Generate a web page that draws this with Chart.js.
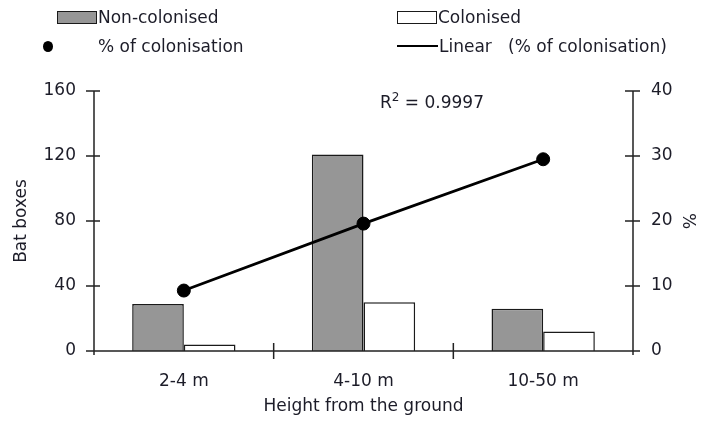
<!DOCTYPE html>
<html>
<head>
<meta charset="utf-8">
<script src="https://cdn.jsdelivr.net/npm/chart.js@4/dist/chart.umd.min.js"></script>
<style>
  html, body { margin: 0; padding: 0; background: #fff; }
  #wrap { position: relative; width: 702px; height: 421px; }
  #legend { position: absolute; left: 0; top: 0; width: 702px; height: 60px;
            font-family: "DejaVu Sans", sans-serif; font-size: 17px; color: #1c1c28; }
  .item { position: absolute; display: flex; align-items: center; white-space: pre; }
  .box { width: 40px; height: 13px; border: 1.5px solid #1a1a1a; box-sizing: border-box; margin-right: 1px; }
  .dot { width: 10px; height: 11px; border-radius: 50%; background: #000; margin: 0 45px 0 0; }
  .line { width: 41px; height: 0; border-top: 2.5px solid #000; margin-right: 1px; }
</style>
</head>
<body>
<div id="wrap">
  <canvas id="batChart" width="702" height="421"></canvas>
  <div id="legend"></div>
</div>
<script>
// Heights and bat box counts
const categories = ['2-4 m', '4-10 m', '10-50 m'];
const nonColonised = [29, 121, 26];
const colonised = [4, 30, 12];
const pctColonisation = [9.3, 19.6, 29.5];
const leftTicks = [0, 40, 80, 120, 160];
const rightTicks = [0, 10, 20, 30, 40];
const rSquared = '0.9997';

const textColor = '#1c1c28';
const axisColor = '#222';
const fontFamily = '"DejaVu Sans", sans-serif';
const fontSize = 17;

// Legend laid out in two columns above the plot
const legendItems = [
  { html: '<span class="box" style="background:#969696"></span>Non-colonised', x: 57, y: 18 },
  { html: '<span class="box" style="background:#fff"></span>Colonised', x: 397, y: 18 },
  { html: '<span class="dot"></span>% of colonisation', x: 43, y: 47 },
  { html: '<span class="line"></span>Linear   (% of colonisation)', x: 397, y: 47 }
];
const legend = document.getElementById('legend');
legendItems.forEach((it) => {
  const d = document.createElement('div');
  d.className = 'item';
  d.style.left = it.x + 'px';
  d.style.top = (it.y - 11) + 'px';
  d.innerHTML = it.html;
  legend.appendChild(d);
});

// Draws ticks that cross the axis lines, like the spreadsheet style
const crossTicks = {
  id: 'crossTicks',
  afterDraw(chart) {
    const ctx = chart.ctx;
    const a = chart.chartArea;
    ctx.save();
    ctx.strokeStyle = axisColor;
    ctx.lineWidth = 1.5;
    ctx.beginPath();
    // axis lines
    ctx.moveTo(a.left, a.top); ctx.lineTo(a.left, a.bottom + 4);
    ctx.moveTo(a.right, a.top); ctx.lineTo(a.right, a.bottom + 4);
    ctx.moveTo(a.left, a.bottom); ctx.lineTo(a.right, a.bottom);
    const y = chart.scales.y, y1 = chart.scales.y1, x = chart.scales.x;
    leftTicks.forEach((v) => {
      const py = y.getPixelForValue(v);
      ctx.moveTo(a.left - 8, py); ctx.lineTo(a.left + 6, py);
    });
    rightTicks.forEach((v) => {
      const py = y1.getPixelForValue(v);
      ctx.moveTo(a.right - 8, py); ctx.lineTo(a.right + 7, py);
    });
    // category boundaries
    for (let i = 1; i < categories.length; i++) {
      const px = (x.getPixelForValue(i - 1) + x.getPixelForValue(i)) / 2;
      ctx.moveTo(px, a.bottom - 8); ctx.lineTo(px, a.bottom + 8);
    }
    ctx.stroke();

    // R squared of the linear fit
    ctx.fillStyle = textColor;
    ctx.font = fontSize + 'px ' + fontFamily;
    ctx.textBaseline = 'alphabetic';
    let tx = 380, ty = 108;
    ctx.fillText('R', tx, ty);
    tx += ctx.measureText('R').width;
    ctx.font = '12px ' + fontFamily;
    ctx.fillText('2', tx, ty - 7);
    tx += ctx.measureText('2').width;
    ctx.font = fontSize + 'px ' + fontFamily;
    ctx.fillText(' = ' + rSquared, tx, ty);
    ctx.restore();
  }
};

const tickFont = { family: fontFamily, size: fontSize };

const ctx = document.getElementById('batChart').getContext('2d');
new Chart(ctx, {
  data: {
    labels: categories,
    datasets: [
      {
        type: 'line',
        label: '% of colonisation',
        data: pctColonisation,
        yAxisID: 'y1',
        showLine: false,
        pointRadius: 6.5,
        pointBackgroundColor: '#000',
        pointBorderColor: '#000',
        order: 0
      },
      {
        type: 'line',
        label: 'Linear (% of colonisation)',
        data: pctColonisation,
        yAxisID: 'y1',
        borderColor: '#000',
        borderWidth: 2.8,
        pointRadius: 0,
        fill: false,
        order: 1
      },
      {
        type: 'bar',
        label: 'Non-colonised',
        data: nonColonised,
        backgroundColor: '#969696',
        borderColor: '#1a1a1a',
        borderWidth: 1.5,
        categoryPercentage: 0.575,
        barPercentage: 1,
        order: 2
      },
      {
        type: 'bar',
        label: 'Colonised',
        data: colonised,
        backgroundColor: '#fff',
        borderColor: '#1a1a1a',
        borderWidth: 1.5,
        categoryPercentage: 0.575,
        barPercentage: 1,
        order: 3
      }
    ]
  },
  options: {
    responsive: false,
    animation: false,
    layout: { padding: { top: 91, left: 0, right: 0, bottom: 0 } },
    plugins: {
      legend: { display: false },
      tooltip: { enabled: false }
    },
    scales: {
      x: {
        grid: { display: false, drawTicks: false },
        border: { display: false },
        ticks: { color: textColor, font: tickFont, padding: 20 },
        title: { display: true, text: 'Height from the ground', color: textColor,
                 font: tickFont, padding: { top: 5 } },
        afterFit: (s) => { s.height = 70; }
      },
      y: {
        position: 'left',
        min: 0, max: 160,
        afterBuildTicks: (s) => { s.ticks = leftTicks.map((v) => ({ value: v })); },
        grid: { display: false, drawTicks: false },
        border: { display: false },
        ticks: { color: textColor, font: tickFont, padding: 18 },
        title: { display: true, text: 'Bat boxes', color: textColor,
                 font: tickFont, padding: { top: 11 } },
        afterFit: (s) => { s.width = 94; }
      },
      y1: {
        position: 'right',
        min: 0, max: 40,
        afterBuildTicks: (s) => { s.ticks = rightTicks.map((v) => ({ value: v })); },
        grid: { display: false, drawTicks: false },
        border: { display: false },
        ticks: { color: textColor, font: tickFont, padding: 18 },
        title: { display: true, text: '%', color: textColor,
                 font: tickFont, padding: { bottom: 3 } },
        afterFit: (s) => { s.width = 69; }
      }
    }
  },
  plugins: [crossTicks]
});
</script>
</body>
</html>
